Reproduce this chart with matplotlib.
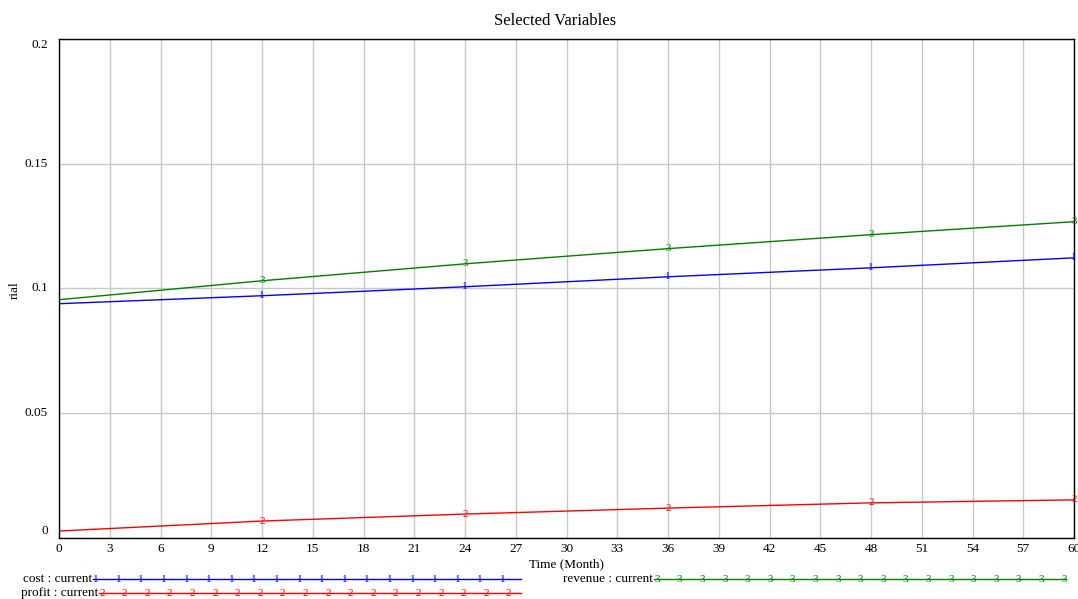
import numpy as np
import matplotlib.pyplot as plt
from matplotlib.lines import Line2D

plt.rcParams['font.family'] = ['Liberation Serif', 'DejaVu Serif']

months = [0, 12, 24, 36, 48, 60]
cost = [0.0938, 0.0970, 0.1006, 0.1046, 0.1082, 0.1122]
profit = [0.0026, 0.0066, 0.0094, 0.0118, 0.0139, 0.0151]
revenue = [0.0954, 0.1030, 0.1098, 0.1159, 0.1215, 0.1267]

series = [
    ("cost : current", cost, "#0000ff", "1"),
    ("profit : current", profit, "#ff0000", "2"),
    ("revenue : current", revenue, "#008000", "3"),
]

W, H = 1078, 599
fig = plt.figure(figsize=(10.78, 5.99), dpi=100)
ax = fig.add_axes([59 / W, 1 - 537.5 / H, 1015 / W, 498.5 / H])

for name, vals, col, num in series:
    ax.plot(months, vals, color=col, lw=1)
    for m, v in zip(months[1:], vals[1:]):
        ax.text(m, v, num, color=col, fontsize=8, ha='center', va='center', clip_on=False)

ax.set_xlim(0, 60)
ax.set_ylim(0, 0.2)
ax.set_xticks(range(0, 61, 3))
ax.set_yticks([0, 0.05, 0.1, 0.15, 0.2])
ax.set_yticklabels(["0", "0.05", "0.1", "0.15", "0.2"])
for lab, va in zip(ax.get_yticklabels(), ['bottom', 'center', 'center', 'center', 'top']):
    lab.set_va(va)
ax.tick_params(length=0, labelsize=9.5)
ax.tick_params(axis='y', pad=8)
ax.tick_params(axis='x', pad=4)
ax.grid(True, color='#c8c8c8', lw=1)
for s in ax.spines.values():
    s.set_color('black')
    s.set_linewidth(1)

fig.text(555 / W, 1 - 21 / H, "Selected Variables", ha='center', va='center', fontsize=12)
ax.set_xlabel("Time (Month)", fontsize=9.5, labelpad=2)
fig.text(15 / W, 1 - 290 / H, "rial", rotation=90, ha='center', va='center', fontsize=9.5)

# legend at the bottom, Vensim style
leg = [
    ("cost : current", "#0000ff", "1", 93, 521, 579),
    ("profit : current", "#ff0000", "2", 99, 521, 593),
    ("revenue : current", "#008000", "3", 654, 1066, 579),
]
for name, col, num, x0, x1, y in leg:
    fig.text((x0 - 1) / W, 1 - y / H, name, ha='right', va='center', fontsize=9.5)
    fig.add_artist(Line2D([x0 / W, x1 / W], [1 - y / H, 1 - y / H], color=col, lw=1,
                          transform=fig.transFigure))
    for xm in np.arange(x0 + 3, x1, 22.6):
        fig.text(xm / W, 1 - y / H, num, color=col, ha='center', va='center', fontsize=8)

fig.savefig("out.png", dpi=100)
